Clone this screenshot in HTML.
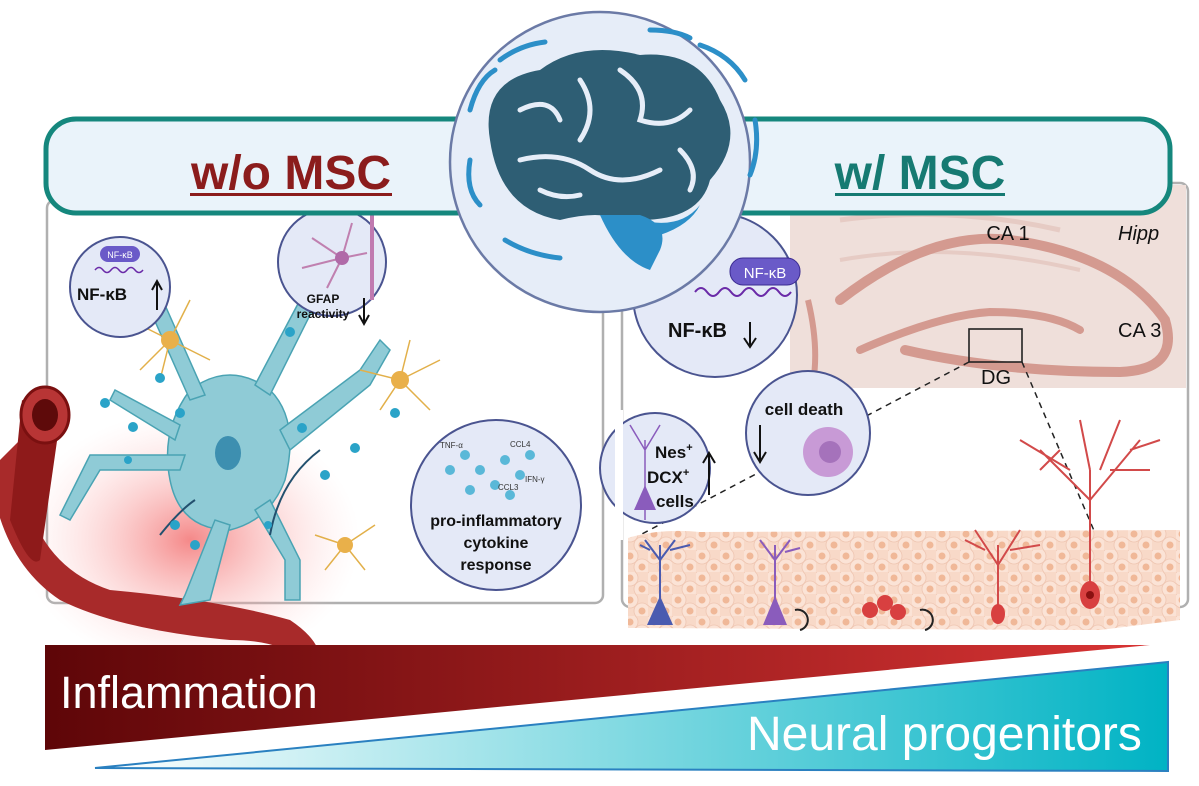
<!DOCTYPE html>
<html><head><meta charset="utf-8"><style>
html,body{margin:0;padding:0;background:#fff;}
svg{display:block;font-family:"Liberation Sans",sans-serif;}
</style></head><body>
<svg width="1199" height="786" viewBox="0 0 1199 786" xmlns="http://www.w3.org/2000/svg">
<defs>
<linearGradient id="red" x1="0" x2="1"><stop offset="0" stop-color="#5e0608"/><stop offset="1" stop-color="#d83434"/></linearGradient>
<linearGradient id="teal" x1="0" x2="1"><stop offset="0" stop-color="#ffffff"/><stop offset="1" stop-color="#00b3c4"/></linearGradient>
<radialGradient id="glow" cx="0.5" cy="0.5" r="0.5"><stop offset="0" stop-color="#f26b6b" stop-opacity="0.8"/><stop offset="1" stop-color="#ffd0d0" stop-opacity="0"/></radialGradient>
<pattern id="cells" width="24" height="22" patternUnits="userSpaceOnUse">
<rect width="24" height="22" fill="#f8d9c8"/>
<circle cx="6" cy="6" r="8" fill="#fbe3d6" stroke="#efc6b2" stroke-width="0.8"/><circle cx="6" cy="6" r="3.5" fill="#f0b898"/>
<circle cx="18" cy="17" r="8" fill="#fbe3d6" stroke="#efc6b2" stroke-width="0.8"/><circle cx="18" cy="17" r="3.5" fill="#f0b898"/>
</pattern>
</defs>
<rect x="47" y="200" width="556" height="403" rx="8" fill="#fff" stroke="#b0b0b0" stroke-width="2.5"/>
<rect x="622" y="183" width="566" height="424" rx="8" fill="#fff" stroke="#b0b0b0" stroke-width="2.5"/>
<!-- hippocampus -->
<rect x="790" y="185" width="396" height="203" fill="#efdfda"/>
<path d="M840 220 Q950 205 1060 230" fill="none" stroke="#e6cbc4" stroke-width="5"/>
<path d="M840 260 Q950 240 1080 270" fill="none" stroke="#e6cbc4" stroke-width="4"/>
<path d="M808 300 Q820 350 812 388" fill="none" stroke="#d49a90" stroke-width="6"/>
<path d="M840 300 Q930 230 1010 240 Q1120 255 1165 320 Q1180 370 1120 372 Q1000 372 905 350" fill="none" stroke="#d49a90" stroke-width="10" stroke-linecap="round"/>
<path d="M860 350 Q940 315 990 312 Q1050 312 1080 330" fill="none" stroke="#d49a90" stroke-width="8" stroke-linecap="round"/>
<rect x="969" y="329" width="53" height="33" fill="none" stroke="#222" stroke-width="1.6"/>
<text x="1008" y="240" font-size="20" text-anchor="middle" fill="#111">CA 1</text>
<text x="1118" y="240" font-size="20" font-style="italic" fill="#111">Hipp</text>
<text x="1118" y="337" font-size="20" fill="#111">CA 3</text>
<text x="996" y="384" font-size="20" text-anchor="middle" fill="#111">DG</text>
<line x1="969" y1="362" x2="640" y2="535" stroke="#222" stroke-width="1.5" stroke-dasharray="6,5"/>
<line x1="1022" y1="362" x2="1098" y2="540" stroke="#222" stroke-width="1.5" stroke-dasharray="6,5"/>
<path d="M628 538 Q660 528 700 532 L1180 530 L1180 620 L1100 630 L628 628Z" fill="url(#cells)"/>
<g stroke-width="2" fill="none">
<path d="M660 600 L660 545 M660 560 L645 540 M660 560 L675 540 M650 550 L640 545 M670 550 L690 545" stroke="#4a5bb0"/>
<path d="M775 600 L775 545 M775 560 L760 540 M775 560 L790 540 M785 552 L800 548" stroke="#8a5cbc"/>
<path d="M998 610 L998 545 M998 565 L975 530 M998 565 L1020 530 M985 550 L965 540 M1010 550 L1040 545" stroke="#d24a4a"/>
<path d="M1090 600 L1090 470 M1090 500 L1040 450 M1090 500 L1140 440 M1070 470 L1020 440 M1110 470 L1150 470 M1090 470 L1080 420 M1100 470 L1120 420 M1060 450 L1040 470 M1130 450 L1160 440" stroke="#d24a4a"/>
</g>
<path d="M647 625 L660 596 L673 625Z" fill="#4a5bb0"/>
<path d="M763 625 L775 596 L787 625Z" fill="#8a5cbc"/>
<circle cx="870" cy="610" r="8" fill="#d84040"/><circle cx="885" cy="603" r="8" fill="#d84040"/><circle cx="898" cy="612" r="8" fill="#d84040"/>
<ellipse cx="998" cy="614" rx="7" ry="10" fill="#d84040"/>
<ellipse cx="1090" cy="595" rx="10" ry="14" fill="#d84040"/><circle cx="1090" cy="595" r="4" fill="#8a1010"/>
<path d="M795 610 A9 9 0 1 1 800 630" fill="none" stroke="#222" stroke-width="2"/>
<path d="M920 610 A9 9 0 1 1 925 630" fill="none" stroke="#222" stroke-width="2"/>
<circle cx="715" cy="295" r="82" fill="#e4e9f7" stroke="#4a5490" stroke-width="2"/>
<rect x="730" y="258" width="70" height="27" rx="13" fill="#6a5ac8" stroke="#3a2a90"/>
<text x="765" y="278" font-size="15" fill="#fff" text-anchor="middle">NF-κB</text>
<path d="M695 292 q6 -8 12 0 t12 0 t12 0 t12 0 t12 0 t12 0 t12 0 t12 0" stroke="#6a2aa8" stroke-width="2" fill="none"/>
<text x="668" y="337" font-size="20" font-weight="bold" fill="#111">NF-κB</text>
<path d="M750 322 L750 345 M744 338 L750 347 L756 338" stroke="#111" stroke-width="2" fill="none"/>
<circle cx="808" cy="433" r="62" fill="#e4e9f7" stroke="#4a5490" stroke-width="2"/>
<text x="804" y="415" font-size="17" font-weight="bold" text-anchor="middle" fill="#111">cell death</text>
<path d="M760 425 L760 460 M754 452 L760 462 L766 452" stroke="#111" stroke-width="2" fill="none"/>
<circle cx="828" cy="452" r="25" fill="#c89ad6"/><circle cx="830" cy="452" r="11" fill="#a572bb"/>
<circle cx="655" cy="468" r="55" fill="#e4e9f7" stroke="#4a5490" stroke-width="2"/>
<rect x="615" y="410" width="8" height="130" fill="#fff"/>
<path d="M645 520 L645 440 M645 450 L630 425 M645 450 L660 425" stroke="#8a5cbc" stroke-width="1.5" fill="none"/>
<path d="M634 510 L645 485 L656 510Z" fill="#8a5cbc"/>
<text x="655" y="458" font-size="17" font-weight="bold" fill="#111">Nes<tspan font-size="11" dy="-7">+</tspan></text>
<text x="647" y="483" font-size="17" font-weight="bold" fill="#111">DCX<tspan font-size="11" dy="-7">+</tspan></text>
<text x="656" y="507" font-size="17" font-weight="bold" fill="#111">cells</text>
<path d="M709 495 L709 455 M703 463 L709 453 L715 463" stroke="#111" stroke-width="2" fill="none"/>
<!-- left -->
<ellipse cx="190" cy="540" rx="170" ry="130" fill="url(#glow)"/>
<path d="M20 440 Q20 560 110 590 Q220 600 290 620 Q320 640 320 660 L300 660 Q280 640 230 640 Q120 630 60 600 Q0 560 -10 470Z" fill="#a82a2a"/>
<path d="M22 400 L60 420 L40 560 Q30 570 10 520Z" fill="#8e1a1a"/>
<ellipse cx="45" cy="415" rx="24" ry="28" fill="#b83535" stroke="#7a1010" stroke-width="3"/>
<ellipse cx="45" cy="415" rx="13" ry="16" fill="#5e0a0a"/>
<g fill="#8fcbd6" stroke="#4aa3b3" stroke-width="1.5">
<path d="M190 390 Q230 360 270 390 Q300 420 285 480 Q270 520 230 530 Q180 530 170 480 Q160 430 190 390Z"/>
<path d="M190 400 L150 310 L165 305 L205 395Z"/>
<path d="M255 385 L300 300 L360 270 L365 283 L310 315 L270 395Z"/>
<path d="M280 430 L360 370 L380 340 L390 350 L370 385 L290 450Z"/>
<path d="M180 470 L100 470 L70 520 L60 515 L90 455 L185 455Z"/>
<path d="M230 525 L210 600 L180 605 L185 595 L215 520Z"/>
<path d="M270 500 L300 560 L300 600 L285 600 L285 560 L255 510Z"/>
<path d="M175 440 L110 400 L115 390 L180 425Z"/>
</g>
<ellipse cx="228" cy="453" rx="13" ry="17" fill="#3d8fb0"/>
<path d="M160 535 Q180 510 195 500" stroke="#23506e" stroke-width="2" fill="none"/>
<path d="M270 535 Q280 480 320 450" stroke="#23506e" stroke-width="2" fill="none"/>
<g stroke="#e2b04a" stroke-width="1.5" fill="none">
<path d="M170 340 l-40 -20 M170 340 l-30 30 M170 340 l20 -40 M170 340 l40 20 M170 340 l-10 40 M400 380 l40 -20 M400 380 l30 30 M400 380 l-20 30 M400 380 l10 -40 M400 380 l-40 -10 M345 545 l-30 -10 M345 545 l30 -20 M345 545 l20 25 M345 545 l-20 25"/>
</g>
<circle cx="170" cy="340" r="9" fill="#e9b04a"/><circle cx="400" cy="380" r="9" fill="#e9b04a"/><circle cx="345" cy="545" r="8" fill="#e9b04a"/>
<g fill="#2aa3c8">
<circle cx="105" cy="403" r="5"/><circle cx="133" cy="427" r="5"/><circle cx="180" cy="413" r="5"/><circle cx="160" cy="378" r="5"/><circle cx="290" cy="332" r="5"/><circle cx="302" cy="428" r="5"/><circle cx="325" cy="475" r="5"/><circle cx="355" cy="448" r="5"/><circle cx="395" cy="413" r="5"/><circle cx="195" cy="545" r="5"/><circle cx="175" cy="525" r="5"/><circle cx="268" cy="525" r="4"/><circle cx="128" cy="460" r="4"/>
</g>
<circle cx="120" cy="287" r="50" fill="#e4e9f7" stroke="#4a5490" stroke-width="2"/>
<rect x="100" y="246" width="40" height="16" rx="8" fill="#6a5ac8"/>
<text x="120" y="258" font-size="9" fill="#fff" text-anchor="middle">NF-κB</text>
<path d="M95 270 q4 -5 8 0 t8 0 t8 0 t8 0 t8 0 t8 0" stroke="#6a2aa8" stroke-width="1.5" fill="none"/>
<text x="77" y="300" font-size="17" font-weight="bold" fill="#111">NF-κB</text>
<path d="M157 310 L157 283 M152 290 L157 281 L162 290" stroke="#111" stroke-width="2" fill="none"/>
<circle cx="332" cy="262" r="54" fill="#e4e9f7" stroke="#4a5490" stroke-width="2"/>
<path d="M342 258 l-30 -20 M342 258 l-40 10 M342 258 l10 -35 M342 258 l25 -5 M342 258 l-15 30" stroke="#c080b0" stroke-width="2" fill="none"/>
<circle cx="342" cy="258" r="7" fill="#b06aa8"/>
<line x1="372" y1="215" x2="372" y2="300" stroke="#c07ab0" stroke-width="4"/>
<text x="323" y="303" font-size="12" font-weight="bold" text-anchor="middle" fill="#111">GFAP</text>
<text x="323" y="318" font-size="12" font-weight="bold" text-anchor="middle" fill="#111">reactivity</text>
<path d="M364 298 L364 322 M359 315 L364 324 L369 315" stroke="#111" stroke-width="2" fill="none"/>
<circle cx="496" cy="505" r="85" fill="#e4e9f7" stroke="#4a5490" stroke-width="2"/>
<g fill="#5ab8d8"><circle cx="465" cy="455" r="5"/><circle cx="480" cy="470" r="5"/><circle cx="505" cy="460" r="5"/><circle cx="520" cy="475" r="5"/><circle cx="495" cy="485" r="5"/><circle cx="470" cy="490" r="5"/><circle cx="530" cy="455" r="5"/><circle cx="510" cy="495" r="5"/><circle cx="450" cy="470" r="5"/></g>
<text x="440" y="448" font-size="8" fill="#333">TNF-α</text><text x="510" y="447" font-size="8" fill="#333">CCL4</text><text x="525" y="482" font-size="8" fill="#333">IFN-γ</text><text x="498" y="490" font-size="8" fill="#333">CCL3</text>
<text x="496" y="526" font-size="16" font-weight="bold" text-anchor="middle" fill="#111">pro-inflammatory</text>
<text x="496" y="548" font-size="16" font-weight="bold" text-anchor="middle" fill="#111">cytokine</text>
<text x="496" y="570" font-size="16" font-weight="bold" text-anchor="middle" fill="#111">response</text>
<!-- banner -->
<rect x="46" y="119" width="1124" height="94" rx="30" fill="#eaf3fa" stroke="#15877d" stroke-width="5"/>
<text x="291" y="189" font-size="48" font-weight="bold" text-anchor="middle" fill="#8b1c1c">w/o MSC</text>
<rect x="190" y="193" width="202" height="3" fill="#8b1c1c"/>
<text x="920" y="189" font-size="48" font-weight="bold" text-anchor="middle" fill="#167a72">w/ MSC</text>
<rect x="835" y="193" width="170" height="3" fill="#167a72"/>
<!-- brain -->
<circle cx="600" cy="162" r="150" fill="#e6edf8" stroke="#6b7aa6" stroke-width="2.5"/>
<path d="M490 140 Q480 80 540 70 Q580 40 640 55 Q700 50 720 100 Q745 140 710 180 Q700 220 640 220 L620 220 Q600 210 560 220 Q500 210 490 140Z" fill="#2e5e74"/>
<path d="M600 215 Q620 260 650 270 L660 250 Q670 225 640 215Z" fill="#2c8fc8"/>
<path d="M640 220 Q680 230 700 205 Q690 225 660 235Z" fill="#2c8fc8"/>
<g stroke="#e6edf8" stroke-width="5" fill="none" stroke-linecap="round">
<path d="M520 110 Q550 95 560 120"/><path d="M580 80 Q600 110 580 140"/><path d="M620 70 Q650 90 640 120 Q670 130 690 110"/><path d="M520 160 Q560 150 590 170 Q620 190 660 170"/><path d="M680 150 Q700 170 690 190"/><path d="M540 190 Q560 200 580 195"/>
</g>
<g stroke="#2c8fc8" stroke-width="5" fill="none" stroke-linecap="round">
<path d="M500 60 Q520 45 545 42"/><path d="M470 110 Q478 80 495 70"/><path d="M470 160 Q465 190 480 205"/><path d="M700 45 Q730 55 745 80"/><path d="M755 120 Q760 150 750 175"/><path d="M505 240 Q530 255 560 258"/><path d="M650 30 Q675 30 690 38"/>
</g>
<polygon points="45,645 1150,645 45,750" fill="url(#red)"/>
<text x="60" y="708" font-size="45" fill="#fff">Inflammation</text>
<polygon points="95,768 1168,662 1168,771" fill="url(#teal)" stroke="#2a80c0" stroke-width="2"/>
<text x="747" y="750" font-size="48" fill="#fff">Neural progenitors</text>
</svg>
</body></html>
